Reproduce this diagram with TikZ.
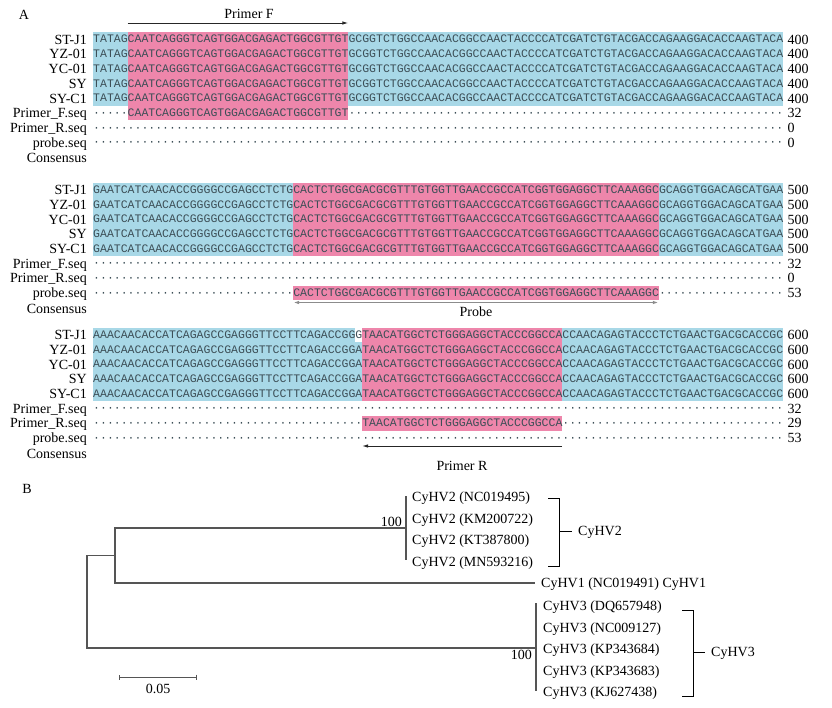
\documentclass[tikz,border=0pt]{standalone}
\usepackage{fontspec}
\setmainfont{Liberation Serif}
\newfontfamily\seqfont{Liberation Mono}
\usetikzlibrary{calc}
\usetikzlibrary{positioning}
\usetikzlibrary{arrows.meta}

\definecolor{hlblue}{HTML}{A8D8E7}
\definecolor{hlpink}{HTML}{EE86AB}
\definecolor{seqink}{HTML}{3C4E56}
\definecolor{treeline}{HTML}{555555}

\newcommand{\cw}{6.9}
\newcommand{\dotrun}[1]{\foreach \k in {1,...,#1}{\textperiodcentered}}
\newcommand{\primerF}{CAATCAGGGTCAGTGGACGAGACTGGCGTTGT}
\newcommand{\primerR}{TAACATGGCTCTGGGAGGCTACCCGGCCA}
\newcommand{\probeseq}{CACTCTGGCGACGCGTTTGTGGTTGAACCGCCATCGGTGGAGGCTTCAAAGGC}
\newcommand{\seqone}{TATAG\primerF GCGGTCTGGCCAACACGGCCAACTACCCCATCGATCTGTACGACCAGAAGGACACCAAGTACA}
\newcommand{\seqtwo}{GAATCATCAACACCGGGGCCGAGCCTCTG\probeseq GCAGGTGGACAGCATGAA}
\newcommand{\seqthree}[1]{AAACAACACCATCAGAGCCGAGGGTTCCTTCAGACCGG#1\primerR CCAACAGAGTACCCTCTGAACTGACGCACCGC}

\begin{document}
\begin{tikzpicture}[x=1pt, y=-1pt,
    every node/.style={inner sep=0pt, font=\fontsize{14}{16}\selectfont},
    seqrow/.style={anchor=west, text height=6.6pt, text depth=0pt, text=seqink, font=\seqfont\fontsize{11.5}{12}\selectfont},
    rowlbl/.style={anchor=east, text height=9.2pt, text depth=0pt},
    numlbl/.style={anchor=west, text height=9.2pt, text depth=0pt},
    leaf/.style={anchor=west, text height=9.2pt, text depth=0pt},
    primerarr/.style={-{Latex[length=6pt,width=3.5pt]}, line width=0.9pt, draw=black!85},
    probearr/.style={{Latex[length=6pt,width=3.5pt]}-{Latex[length=6pt,width=3.5pt]}, line width=1.2pt, draw=black!45},
    branch/.style={draw=treeline, line width=1.1pt}]
\useasboundingbox (0,0) rectangle (832,707);

% Panel labels
\node (panA) at (24,15) {A};
\node (panB) at (27,489) {B};

% Highlights
\fill[hlblue] (93,32.25) rectangle (93+100*\cw,105.75);
\fill[hlpink] (93+5*\cw,32.25) rectangle (93+37*\cw,120.45);
\fill[hlblue] (93,182.65) rectangle (93+100*\cw,256.15);
\fill[hlpink] (93+29*\cw,182.65) rectangle (93+82*\cw,256.15);
\fill[hlpink] (93+29*\cw,285.55) rectangle (93+82*\cw,300.25);
\fill[hlblue] (93,327.65) rectangle (93+100*\cw,401.15);
\fill[white] (93+38*\cw,327.65) rectangle (93+39*\cw,342.35);
\fill[hlpink] (93+39*\cw,327.65) rectangle (93+68*\cw,401.15);
\fill[hlpink] (93+39*\cw,415.85) rectangle (93+68*\cw,430.55);

% Block 1
\foreach \nm [count=\i] in {ST-J1,YZ-01,YC-01,SY,SY-C1} {
  \node[seqrow] (a\i) at (93,{39.6+14.7*(\i-1)}) {\seqone};
  \node[rowlbl, left=6pt of a\i] (al\i) {\nm};
  \node[numlbl, right=4pt of a\i] (an\i) {400};
}
\node[seqrow] (a6) at (93,113.1) {\dotrun{5}\primerF\dotrun{63}};
\node[rowlbl, left=6pt of a6] (al6) {Primer\_F.seq};
\node[numlbl, right=4pt of a6] (an6) {32};
\node[seqrow] (a7) at (93,127.8) {\dotrun{100}};
\node[rowlbl, left=6pt of a7] (al7) {Primer\_R.seq};
\node[numlbl, right=4pt of a7] (an7) {0};
\node[seqrow] (a8) at (93,142.5) {\dotrun{100}};
\node[rowlbl, left=6pt of a8] (al8) {probe.seq};
\node[numlbl, right=4pt of a8] (an8) {0};
\node[rowlbl] (al9) at (87,158) {Consensus};

% Block 2
\foreach \nm [count=\i] in {ST-J1,YZ-01,YC-01,SY,SY-C1} {
  \node[seqrow] (b\i) at (93,{190+14.7*(\i-1)}) {\seqtwo};
  \node[rowlbl, left=6pt of b\i] (bl\i) {\nm};
  \node[numlbl, right=4pt of b\i] (bn\i) {500};
}
\node[seqrow] (b6) at (93,263.5) {\dotrun{100}};
\node[rowlbl, left=6pt of b6] (bl6) {Primer\_F.seq};
\node[numlbl, right=4pt of b6] (bn6) {32};
\node[seqrow] (b7) at (93,278.2) {\dotrun{100}};
\node[rowlbl, left=6pt of b7] (bl7) {Primer\_R.seq};
\node[numlbl, right=4pt of b7] (bn7) {0};
\node[seqrow] (b8) at (93,292.9) {\dotrun{29}\probeseq\dotrun{18}};
\node[rowlbl, left=6pt of b8] (bl8) {probe.seq};
\node[numlbl, right=4pt of b8] (bn8) {53};
\node[rowlbl] (bl9) at (87,309) {Consensus};

% Block 3
\foreach \nm [count=\i] in {ST-J1,YZ-01,YC-01,SY,SY-C1} {
  \node[seqrow] (c\i) at (93,{335+14.7*(\i-1)}) {\seqthree{\ifnum\i=1 G\else A\fi}};
  \node[rowlbl, left=6pt of c\i] (cl\i) {\nm};
  \node[numlbl, right=4pt of c\i] (cn\i) {600};
}
\node[seqrow] (c6) at (93,408.5) {\dotrun{100}};
\node[rowlbl, left=6pt of c6] (cl6) {Primer\_F.seq};
\node[numlbl, right=4pt of c6] (cn6) {32};
\node[seqrow] (c7) at (93,423.2) {\dotrun{39}\primerR\dotrun{32}};
\node[rowlbl, left=6pt of c7] (cl7) {Primer\_R.seq};
\node[numlbl, right=4pt of c7] (cn7) {29};
\node[seqrow] (c8) at (93,437.9) {\dotrun{100}};
\node[rowlbl, left=6pt of c8] (cl8) {probe.seq};
\node[numlbl, right=4pt of c8] (cn8) {53};
\node[rowlbl] (cl9) at (87,454) {Consensus};

% Primer and probe arrows
\coordinate (pfL) at (93+5*\cw,23);
\coordinate (pfR) at (93+37*\cw,23);
\draw[primerarr] (pfL) -- (pfR);
\node (pfLbl) at (249,14) {Primer F};
\coordinate (prL) at (93+29*\cw,302.5);
\coordinate (prR) at (93+82*\cw,302.5);
\draw[probearr] (prL) -- (prR);
\node (prLbl) at (476,311.5) {Probe};
\coordinate (rrL) at (93+39*\cw,446);
\coordinate (rrR) at (93+68*\cw,446);
\draw[primerarr] (rrR) -- (rrL);
\node (rrLbl) at (462,466) {Primer R};

% Tree
\coordinate (root) at (87,555.5);
\coordinate (inner) at (115,555.5);
\coordinate (cl2) at (406,528);
\coordinate (cl1) at (535,583);
\coordinate (cl3) at (536,648);
\draw[branch] (inner) -- (root) |- (cl3);
\draw[branch] (cl2) -| (inner) |- (cl1);
\draw[branch] ($(cl2)+(0,-32)$) -- ($(cl2)+(0,32)$);
\draw[branch] ($(cl3)+(0,-45)$) -- ($(cl3)+(0,43)$);
\node[anchor=east] (bs2) at (402,521.5) {100};
\node[anchor=east] (bs3) at (532,655) {100};

% Leaves
\foreach \acc [count=\i] in {NC019495,KM200722,KT387800,MN593216}
  \node[leaf] (v2\i) at (412,{497+21.5*(\i-1)}) {CyHV2 (\acc)};
\node[leaf] (v1) at (541,583) {CyHV1 (NC019491) CyHV1};
\foreach \acc [count=\i] in {DQ657948,NC009127,KP343684,KP343683,KJ627438}
  \node[leaf] (v3\i) at (543,{606+21.5*(\i-1)}) {CyHV3 (\acc)};

% Groups
\coordinate (k2t) at (548,498);
\coordinate (k2b) at (548,566);
\coordinate (k2m) at (559,531);
\draw[line width=0.8pt] (k2t) -- ++(11,0) |- (k2b);
\node[leaf] (grp2) at (578,531) {CyHV2};
\draw[line width=0.8pt] (k2m) -- ([xshift=-6pt]grp2.west);
\coordinate (k3t) at (682,610);
\coordinate (k3b) at (682,696);
\coordinate (k3m) at (693,652);
\draw[line width=0.8pt] (k3t) -- ++(11,0) |- (k3b);
\node[leaf] (grp3) at (711,652) {CyHV3};
\draw[line width=0.8pt] (k3m) -- ([xshift=-6pt]grp3.west);

% Scale bar
\coordinate (sbL) at (119,677);
\coordinate (sbR) at (197,677);
\draw[{Bar[width=5pt]}-{Bar[width=5pt]}, draw=treeline, line width=1pt] (sbL) -- (sbR);
\node (sbLbl) at (158,689) {0.05};
\end{tikzpicture}
\end{document}
